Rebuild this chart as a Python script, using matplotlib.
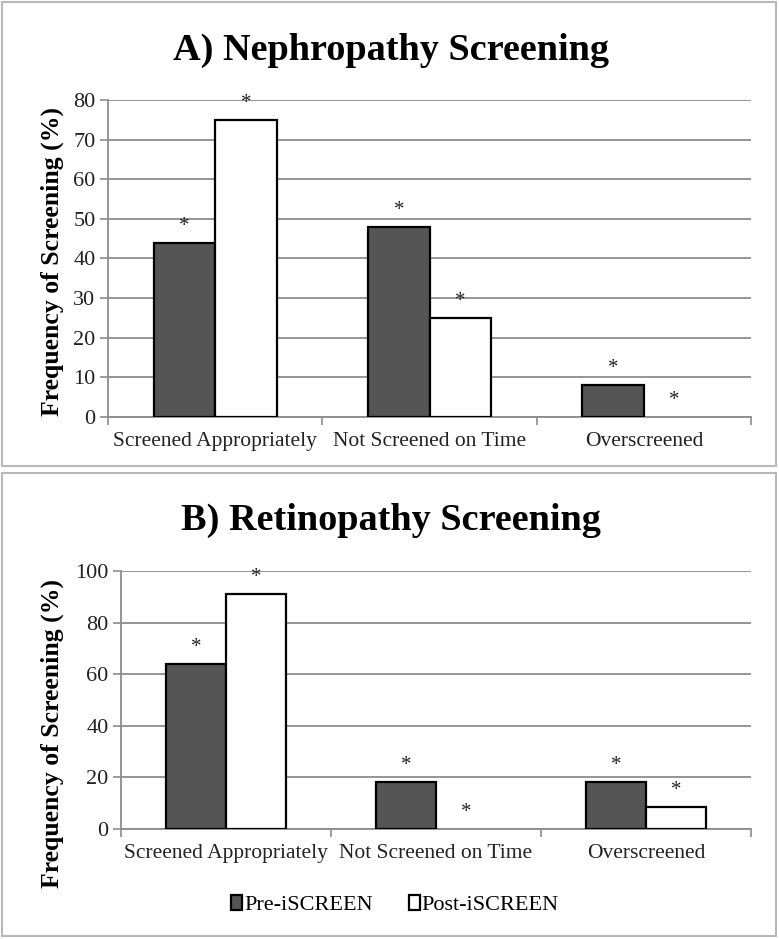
import matplotlib
matplotlib.use("Agg")
import matplotlib.pyplot as plt
from matplotlib.patches import Rectangle
import numpy as np

plt.rcParams['font.family'] = ['Liberation Serif', 'DejaVu Serif']

categories = ["Screened Appropriately", "Not Screened on Time", "Overscreened"]
series_names = ["Pre-iSCREEN", "Post-iSCREEN"]

neph_title = "A) Nephropathy Screening"
neph_pre = [44, 48, 8]
neph_post = [75, 25, 0]
neph_yticks = [0, 10, 20, 30, 40, 50, 60, 70, 80]

ret_title = "B) Retinopathy Screening"
ret_pre = [64, 18, 18]
ret_post = [91, 0, 8.5]
ret_yticks = [0, 20, 40, 60, 80, 100]

ylabel = "Frequency of Screening (%)"

W, H = 779, 939
fig = plt.figure(figsize=(W / 100, H / 100), dpi=100)


def fx(px):
    return px / W


def fy(py):
    return 1 - py / H


# panel borders
for (x0, y0, x1, y1) in [(2, 2, 776, 466), (2, 473, 776, 936)]:
    fig.add_artist(Rectangle((fx(x0), fy(y1)), fx(x1) - fx(x0), fy(y0) - fy(y1),
                             transform=fig.transFigure, fill=False,
                             edgecolor='#b8b8b8', lw=1.5))

bw = 0.287
grid_c = '#8c8c8c'


def panel(rect, pre, post, yticks, title, title_y, ylab_y, legend=False):
    ax = fig.add_axes(rect)
    x = np.arange(len(categories))
    b1 = ax.bar(x - bw / 2, pre, bw, color='#555555',
                edgecolor=['black' if v > 0 else 'none' for v in pre], lw=1.6,
                zorder=3, label=series_names[0])
    b2 = ax.bar(x + bw / 2, post, bw, color='white',
                edgecolor=['black' if v > 0 else 'none' for v in post], lw=1.6,
                zorder=3, label=series_names[1])
    for xs, vals in [(x - bw / 2, pre), (x + bw / 2, post)]:
        for xi, v in zip(xs, vals):
            ax.annotate('*', (xi, v), xytext=(0, 5), textcoords='offset points',
                        ha='center', va='bottom', fontsize=15, color='#222222')
    ax.set_xlim(-0.5, len(categories) - 0.5)
    ax.set_ylim(yticks[0], yticks[-1])
    ax.set_yticks(yticks)
    ax.set_yticklabels([str(t) for t in yticks], fontsize=16, color='#222222')
    ax.set_xticks(x)
    ax.set_xticklabels(categories, fontsize=15.5, color='#222222')
    ax.set_xticks(np.arange(-0.5, len(categories)), minor=True)
    ax.tick_params(axis='x', which='major', length=0, pad=11)
    ax.tick_params(axis='x', which='minor', length=6, color=grid_c, width=1.2)
    ax.tick_params(axis='y', length=6, color=grid_c, width=1.2, pad=3)
    ax.yaxis.grid(True, color=grid_c, lw=1.3, zorder=0)
    ax.set_axisbelow(True)
    for s in ['top', 'right']:
        ax.spines[s].set_visible(False)
    for s in ['left', 'bottom']:
        ax.spines[s].set_color(grid_c)
        ax.spines[s].set_linewidth(1.3)
    fig.text(0.502, fy(title_y), title, ha='center', va='center',
             fontsize=27.5, fontweight='bold')
    fig.text(fx(52), fy(ylab_y), ylabel, ha='center', va='center',
             rotation=90, fontsize=18.5, fontweight='bold')
    if legend:
        fig.legend(handles=[b1, b2], labels=series_names, loc='center',
                   bbox_to_anchor=(fx(395), fy(905)), ncol=2, frameon=False,
                   fontsize=16, handlelength=0.5, handleheight=0.7,
                   handletextpad=0.1, columnspacing=1.6)
    return ax


panel([fx(108), fy(416.7), fx(751) - fx(108), fy(100) - fy(416.7)],
      neph_pre, neph_post, neph_yticks, neph_title, 50, 262)
panel([fx(121), fy(828.7), fx(751) - fx(121), fy(571) - fy(828.7)],
      ret_pre, ret_post, ret_yticks, ret_title, 520, 733, legend=True)

fig.savefig("out.png", dpi=100)
